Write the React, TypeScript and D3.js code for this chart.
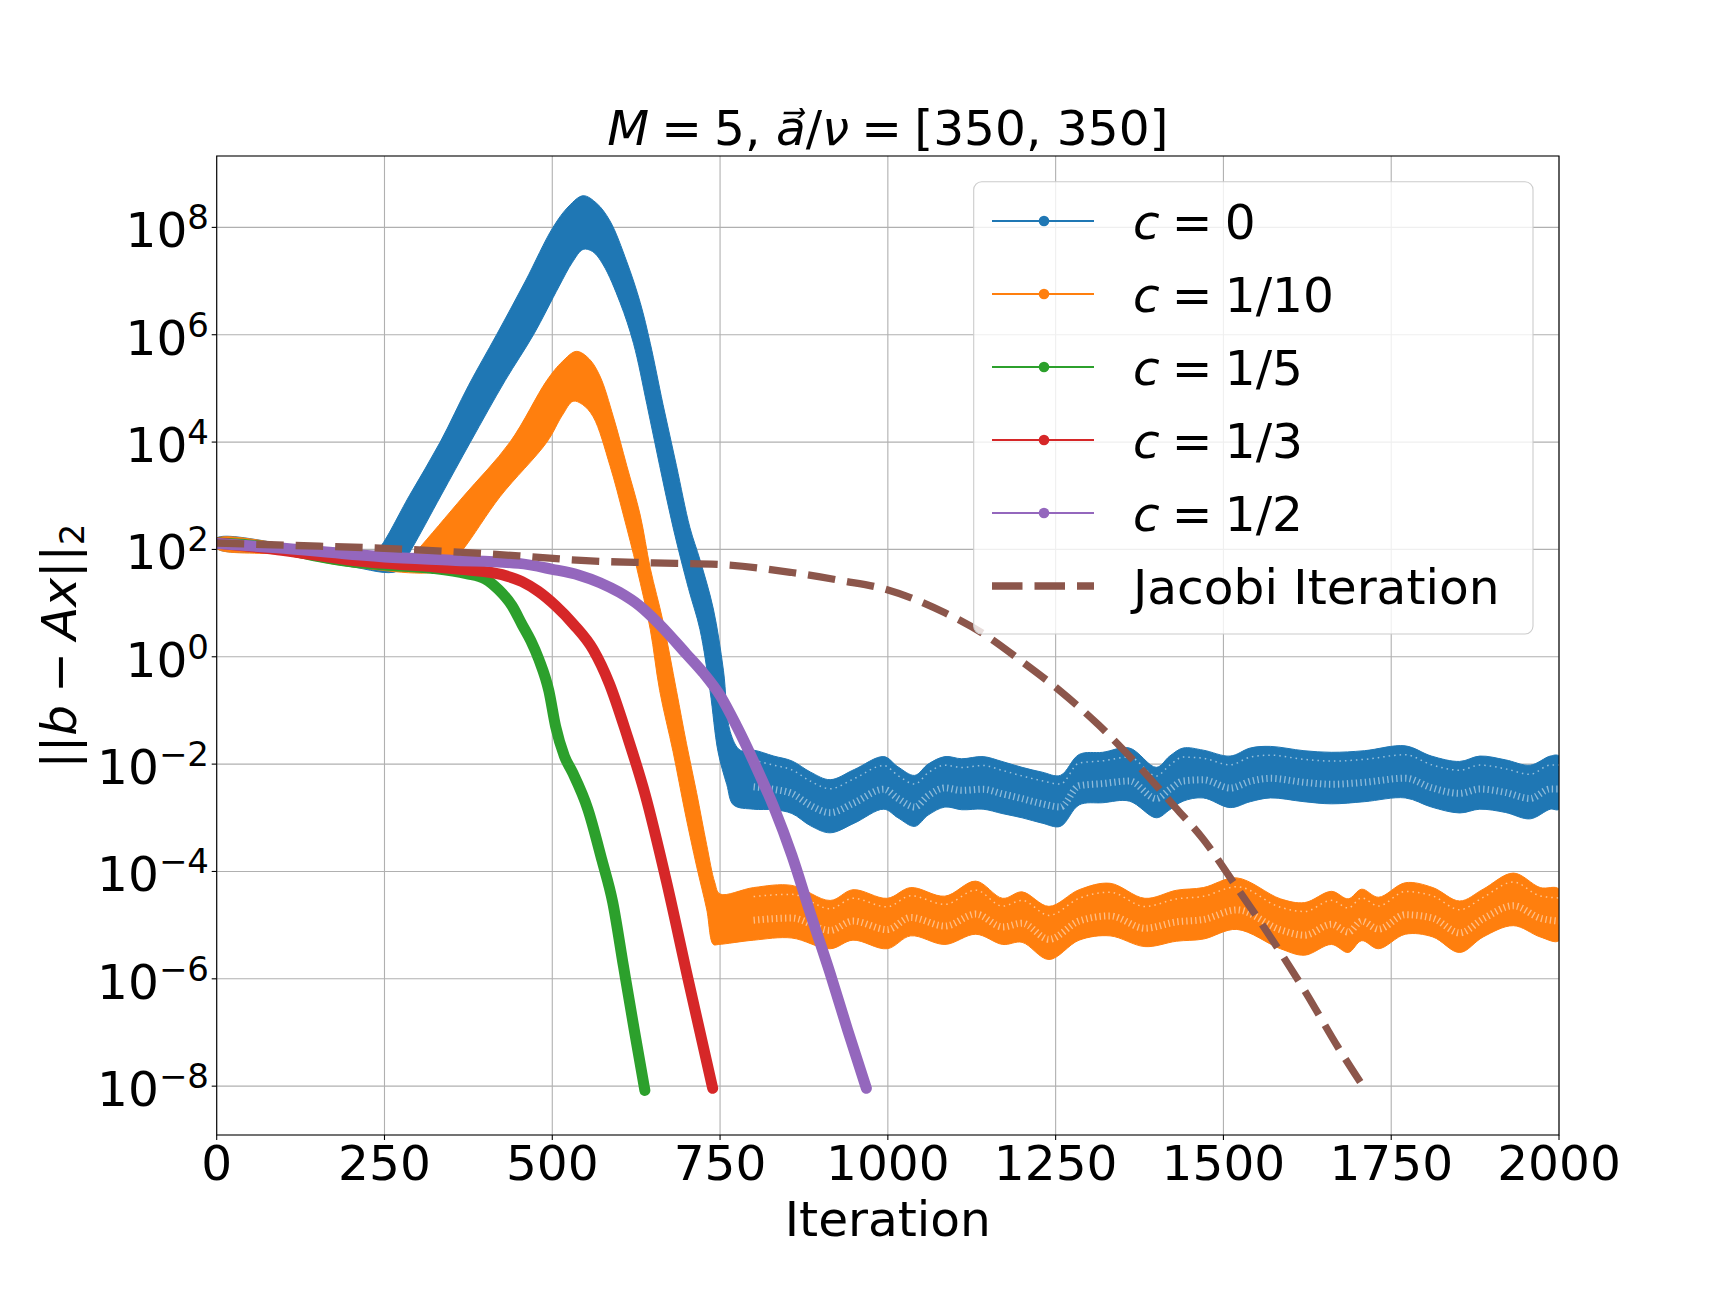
import React from 'react';
import * as d3 from 'd3';

// residual ||b - Ax||_2, stored as log10 values
const greenIter = [0, 50, 100, 150, 200, 250, 320, 372, 400, 420, 440, 455, 468, 480, 495, 505, 518, 530, 553, 574, 590, 606, 622, 638];
const greenLog = [2.12, 2.08, 2.0, 1.87, 1.77, 1.71, 1.65, 1.55, 1.45, 1.25, 0.95, 0.6, 0.3, -0.05, -0.64, -1.3, -1.85, -2.15, -2.84, -3.79, -4.57, -5.76, -6.94, -8.08];

const redIter = [0, 100, 200, 250, 320, 372, 425, 455, 479, 505, 532, 561, 585, 611, 638, 670, 702, 739];
const redLog = [2.12, 1.98, 1.8, 1.74, 1.68, 1.62, 1.53, 1.4, 1.22, 0.95, 0.6, 0.13, -0.5, -1.45, -2.55, -4.18, -5.99, -8.04];

const purpleIter = [0, 100, 250, 350, 450, 500, 540, 571, 600, 630, 660, 700, 725, 750, 775, 800, 830, 857, 885, 914, 940, 968];
const purpleLog = [2.11, 2.02, 1.86, 1.8, 1.74, 1.63, 1.52, 1.38, 1.2, 0.95, 0.6, 0.05, -0.3, -0.72, -1.3, -1.95, -2.8, -3.7, -4.8, -5.9, -6.95, -8.04];

const jacobiIter = [0, 100, 250, 450, 550, 650, 750, 857, 930, 999, 1085, 1142, 1200, 1257, 1314, 1371, 1428, 1470, 1520, 1570, 1621, 1671, 1711];
const jacobiLog = [2.12, 2.08, 2.02, 1.88, 1.79, 1.75, 1.72, 1.57, 1.42, 1.25, 0.82, 0.43, -0.09, -0.64, -1.27, -2.0, -2.8, -3.4, -4.3, -5.22, -6.22, -7.28, -8.06];

// c = 0 and c = 1/10 oscillate every step, so they show as bands: upper and lower edges
const blueTopIter = [0, 100, 200, 225, 241, 287, 333, 375, 417, 460, 501, 525, 546, 566, 586, 611, 631, 646, 665, 685, 705, 720, 740, 755, 765, 780, 800, 830, 857, 885, 914, 950, 994, 1015, 1040, 1060, 1085, 1110, 1142, 1170, 1200, 1230, 1257, 1285, 1320, 1360, 1400, 1420, 1440, 1470, 1510, 1540, 1570, 1620, 1661, 1710, 1771, 1810, 1852, 1882, 1920, 1957, 1987, 2000];
const blueTopLog = [2.21, 2.1, 1.86, 1.84, 2.0, 3.0, 4.0, 5.05, 6.0, 7.0, 8.0, 8.4, 8.59, 8.45, 8.12, 7.36, 6.6, 5.84, 4.7, 3.56, 2.41, 1.81, 0.89, -0.25, -1.39, -1.74, -1.74, -1.85, -1.94, -2.15, -2.29, -2.1, -1.86, -2.05, -2.21, -2.0, -1.86, -1.9, -1.86, -1.95, -2.06, -2.15, -2.21, -1.82, -1.78, -1.7, -2.06, -1.85, -1.7, -1.74, -1.85, -1.7, -1.67, -1.75, -1.78, -1.75, -1.66, -1.85, -1.95, -1.85, -1.92, -2.02, -1.85, -1.85];
const blueBotIter = [0, 100, 200, 270, 290, 334, 378, 430, 472, 510, 530, 546, 560, 576, 601, 621, 641, 660, 680, 703, 720, 735, 747, 760, 770, 800, 830, 857, 885, 914, 950, 994, 1015, 1040, 1060, 1085, 1110, 1142, 1170, 1200, 1230, 1257, 1285, 1320, 1360, 1400, 1420, 1440, 1470, 1510, 1540, 1570, 1620, 1661, 1710, 1771, 1810, 1852, 1882, 1920, 1957, 1987, 2000];
const blueBotLog = [2.02, 1.92, 1.68, 1.6, 2.0, 3.0, 4.0, 5.15, 6.0, 6.9, 7.35, 7.59, 7.55, 7.3, 6.6, 5.84, 4.7, 3.56, 2.41, 1.27, 0.51, -0.63, -1.77, -2.38, -2.76, -2.84, -2.85, -2.92, -3.15, -3.28, -3.1, -2.84, -3.0, -3.16, -2.95, -2.8, -2.85, -2.84, -2.92, -3.0, -3.1, -3.16, -2.76, -2.72, -2.69, -3.0, -2.85, -2.69, -2.63, -2.81, -2.7, -2.63, -2.7, -2.74, -2.7, -2.63, -2.8, -2.91, -2.84, -2.9, -3.02, -2.84, -2.84];

const orangeTopIter = [0, 100, 200, 285, 300, 367, 437, 492, 515, 536, 555, 571, 591, 611, 631, 646, 665, 685, 700, 715, 730, 742, 750, 800, 857, 914, 948, 999, 1034, 1085, 1131, 1171, 1200, 1240, 1285, 1331, 1383, 1430, 1470, 1520, 1585, 1621, 1661, 1686, 1706, 1731, 1771, 1812, 1852, 1887, 1932, 1972, 2000];
const orangeTopLog = [2.2, 2.1, 1.86, 1.8, 2.0, 2.98, 4.0, 5.15, 5.5, 5.69, 5.55, 5.23, 4.47, 3.56, 2.64, 1.65, 0.66, -0.63, -1.62, -2.53, -3.5, -4.2, -4.42, -4.3, -4.26, -4.54, -4.34, -4.5, -4.3, -4.46, -4.18, -4.5, -4.38, -4.65, -4.34, -4.22, -4.5, -4.35, -4.3, -4.12, -4.51, -4.58, -4.37, -4.51, -4.33, -4.48, -4.21, -4.3, -4.55, -4.33, -4.03, -4.3, -4.33];
const orangeBotIter = [0, 100, 200, 340, 367, 422, 492, 515, 531, 545, 561, 586, 606, 626, 646, 660, 680, 698, 715, 730, 740, 748, 800, 857, 914, 948, 999, 1034, 1085, 1131, 1171, 1200, 1240, 1285, 1331, 1383, 1430, 1470, 1520, 1585, 1621, 1661, 1686, 1706, 1731, 1771, 1812, 1852, 1887, 1932, 1972, 2000];
const orangeBotLog = [2.02, 1.9, 1.68, 1.62, 2.0, 2.98, 4.0, 4.5, 4.76, 4.7, 4.47, 3.56, 2.64, 1.65, 0.51, -0.63, -1.77, -2.91, -3.9, -4.7, -5.36, -5.36, -5.28, -5.24, -5.44, -5.28, -5.44, -5.2, -5.36, -5.17, -5.36, -5.32, -5.64, -5.28, -5.2, -5.4, -5.3, -5.26, -5.08, -5.44, -5.56, -5.36, -5.51, -5.29, -5.44, -5.17, -5.22, -5.51, -5.22, -5.01, -5.22, -5.29];

const xTicks = [0, 250, 500, 750, 1000, 1250, 1500, 1750, 2000];
const yTickExps = [-8, -6, -4, -2, 0, 2, 4, 6, 8];

const legendLabels = ['0', '1/10', '1/5', '1/3', '1/2'];
const colors = ['#1f77b4', '#ff7f0e', '#2ca02c', '#d62728', '#9467bd'];
const jacobiColor = '#8c564b';

const W = 1728;
const H = 1296;
const left = 216.7, right = 1559, top = 156, bottom = 1135;
const FS = 48.6;
const SP = '\u2005';

export default function App() {
  const x = d3.scaleLinear().domain([0, 2000]).range([left, right]);
  const y = d3.scaleLog().domain([Math.pow(10, -8.91), Math.pow(10, 9.33)]).range([bottom, top]);

  const line = d3.line<[number, number]>()
    .x(d => x(d[0]))
    .y(d => y(Math.pow(10, d[1])))
    .curve(d3.curveMonotoneX);

  const zip = (a: number[], b: number[]) => a.map((v, i) => [v, b[i]] as [number, number]);

  const band = (ti: number[], tl: number[], bi: number[], bl: number[]) => {
    const pts = zip(ti, tl).concat(zip(bi, bl).reverse());
    return d3.line<[number, number]>()
      .x(d => x(d[0]))
      .y(d => y(Math.pow(10, d[1])))
      .curve(d3.curveCatmullRomClosed.alpha(0.5))(pts);
  };

  // inner row of the oscillating band (where top and bottom share an iteration)
  const innerRow = (ti: number[], tl: number[], bi: number[], bl: number[], f: number) =>
    ti.map((it, i) => [it, tl[i]] as [number, number])
      .filter(d => d[0] >= 800 && bi.indexOf(d[0]) >= 0)
      .map(d => [d[0], d[1] + f * (bl[bi.indexOf(d[0])] - d[1])] as [number, number]);

  const mark = 11;
  const legendRows = [221, 294, 367, 440, 513, 586];

  const stipple = (ti: number[], tl: number[], bi: number[], bl: number[], k: string) => (
    <g key={k}>
      <path d={line(innerRow(ti, tl, bi, bl, 0.62)) || ''} fill="none" stroke="#fff" strokeOpacity={0.5} strokeWidth={7} strokeDasharray="1.3 3.2" />
      <path d={line(innerRow(ti, tl, bi, bl, 0.17)) || ''} fill="none" stroke="#fff" strokeOpacity={0.55} strokeWidth={1.5} strokeDasharray="1.5 4" />
    </g>
  );

  return (
    <svg width={W} height={H} style={{ position: 'absolute', left: 0, top: 0, background: '#fff' }}
      fontFamily="DejaVu Sans, sans-serif">
      <defs>
        <clipPath id="plot">
          <rect x={left} y={top} width={right - left} height={bottom - top} />
        </clipPath>
      </defs>
      <rect x={0} y={0} width={W} height={H} fill="#fff" />

      {/* grid */}
      <g stroke="#b0b0b0" strokeWidth={1.1}>
        {xTicks.map(t => <line key={'gx' + t} x1={x(t)} x2={x(t)} y1={top} y2={bottom} />)}
        {yTickExps.map(e => <line key={'gy' + e} x1={left} x2={right} y1={y(Math.pow(10, e))} y2={y(Math.pow(10, e))} />)}
      </g>

      <g clipPath="url(#plot)">
        <path d={band(blueTopIter, blueTopLog, blueBotIter, blueBotLog) || ''} fill={colors[0]} stroke={colors[0]} strokeWidth={1} />
        {stipple(blueTopIter, blueTopLog, blueBotIter, blueBotLog, 'sb')}
        <path d={band(orangeTopIter, orangeTopLog, orangeBotIter, orangeBotLog) || ''} fill={colors[1]} stroke={colors[1]} strokeWidth={1} />
        {stipple(orangeTopIter, orangeTopLog, orangeBotIter, orangeBotLog, 'so')}
        <path d={line(zip(greenIter, greenLog)) || ''} fill="none" stroke={colors[2]} strokeWidth={mark} strokeLinecap="round" strokeLinejoin="round" />
        <path d={line(zip(redIter, redLog)) || ''} fill="none" stroke={colors[3]} strokeWidth={mark} strokeLinecap="round" strokeLinejoin="round" />
        <path d={line(zip(purpleIter, purpleLog)) || ''} fill="none" stroke={colors[4]} strokeWidth={mark} strokeLinecap="round" strokeLinejoin="round" />
        <path d={line(zip(jacobiIter, jacobiLog)) || ''} fill="none" stroke={jacobiColor} strokeWidth={7.3} strokeDasharray="27.5 12" />
      </g>

      {/* spines */}
      <rect x={left} y={top} width={right - left} height={bottom - top} fill="none" stroke="#000" strokeWidth={1.1} />

      {/* x ticks */}
      <g fontSize={FS} textAnchor="middle" fill="#000">
        {xTicks.map(t => (
          <g key={'xt' + t}>
            <line x1={x(t)} x2={x(t)} y1={bottom} y2={bottom + 5} stroke="#000" strokeWidth={1.1} />
            <text x={x(t)} y={1180}>{t}</text>
          </g>
        ))}
      </g>

      {/* y ticks */}
      <g fontSize={FS} textAnchor="end" fill="#000">
        {yTickExps.map(e => (
          <g key={'yt' + e}>
            <line x1={left - 5} x2={left} y1={y(Math.pow(10, e))} y2={y(Math.pow(10, e))} stroke="#000" strokeWidth={1.1} />
            <text x={209} y={y(Math.pow(10, e)) + 20}>
              10<tspan fontSize={34} dy={-18}>{e < 0 ? '\u2212' + Math.abs(e) : String(e)}</tspan>
            </text>
          </g>
        ))}
      </g>

      {/* title */}
      <text x={(left + right) / 2} y={145} fontSize={FS} textAnchor="middle" fill="#000">
        <tspan fontStyle="italic">M</tspan>{SP + '=' + SP + '5, '}<tspan fontStyle="italic">{'a\u20D7'}</tspan>{'/'}<tspan fontStyle="italic">{'\u03BD'}</tspan>{SP + '=' + SP + '[350, 350]'}
      </text>

      {/* axis labels */}
      <text x={(left + right) / 2} y={1236} fontSize={FS} textAnchor="middle" fill="#000">Iteration</text>
      <text transform="translate(75.5,646) rotate(-90)" fontSize={FS} textAnchor="middle" fill="#000">
        {'||'}<tspan fontStyle="italic">b</tspan>{SP + '\u2212' + SP}<tspan fontStyle="italic">Ax</tspan>{'||'}<tspan fontSize={34} dy={8}>2</tspan>
      </text>

      {/* legend */}
      <rect x={973.7} y={181.7} width={1533 - 973.7} height={634 - 181.7} rx={8} fill="#fff" fillOpacity={0.8} stroke="#cccccc" strokeWidth={1.1} />
      {legendLabels.map((lab, i) => (
        <g key={'lg' + i}>
          <line x1={992} x2={1094} y1={legendRows[i]} y2={legendRows[i]} stroke={colors[i]} strokeWidth={2} />
          <circle cx={1044} cy={legendRows[i]} r={5.3} fill={colors[i]} />
          <text x={1133} y={legendRows[i] + 18} fontSize={FS} fill="#000">
            <tspan fontStyle="italic">c</tspan>{SP + '=' + SP + lab}
          </text>
        </g>
      ))}
      <line x1={992} x2={1094} y1={legendRows[5]} y2={legendRows[5]} stroke={jacobiColor} strokeWidth={7.3} strokeDasharray="30.5 12" />
      <text x={1133} y={legendRows[5] + 18} fontSize={FS} fill="#000">Jacobi Iteration</text>
    </svg>
  );
}
